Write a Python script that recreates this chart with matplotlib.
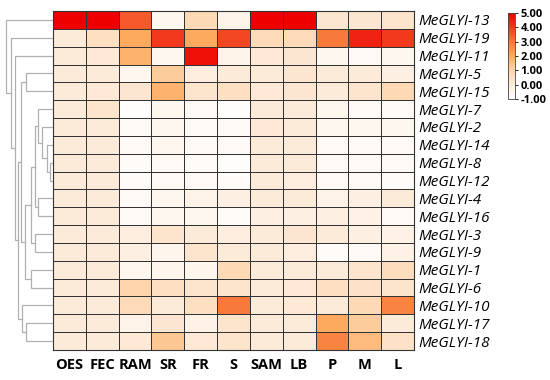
import matplotlib
matplotlib.use("Agg")
import matplotlib.pyplot as plt
import numpy as np
from matplotlib.colors import LinearSegmentedColormap

columns = ["OES", "FEC", "RAM", "SR", "FR", "S", "SAM", "LB", "P", "M", "L"]
genes = ["MeGLYI-13", "MeGLYI-19", "MeGLYI-11", "MeGLYI-5", "MeGLYI-15", "MeGLYI-7",
         "MeGLYI-2", "MeGLYI-14", "MeGLYI-8", "MeGLYI-12", "MeGLYI-4", "MeGLYI-16",
         "MeGLYI-3", "MeGLYI-9", "MeGLYI-1", "MeGLYI-6", "MeGLYI-10", "MeGLYI-17", "MeGLYI-18"]

values = [
    [5.0, 5.0, 3.5, -0.6, 0.8, -0.4, 5.0, 5.0, 0.2, 0.2, 0.3],
    [0.0, 0.5, 2.0, 4.0, 2.0, 3.8, 0.7, 0.7, 3.0, 4.4, 4.0],
    [0.0, 0.1, 1.8, -0.6, 4.7, -0.4, 0.1, 0.2, -0.6, -0.7, -0.6],
    [0.0, 0.0, -0.6, 1.2, -0.1, 0.0, 0.0, 0.2, 0.0, 0.0, -0.2],
    [0.0, 0.1, 0.2, 1.8, 0.3, 0.5, 0.1, 0.2, 0.0, 0.3, 0.8],
    [0.0, 0.3, -0.9, -0.6, -0.7, -0.9, 0.0, 0.0, -0.6, -0.7, -0.7],
    [0.0, 0.0, -0.7, -0.6, -0.7, -0.7, 0.1, 0.0, -0.6, -0.6, -0.6],
    [0.0, 0.0, -0.7, -0.6, -0.7, -0.7, 0.0, 0.0, -0.7, -0.7, -0.7],
    [0.0, 0.0, -0.8, -0.7, -0.8, -0.9, 0.0, 0.0, -0.7, -0.7, -0.7],
    [0.0, 0.0, -0.8, -0.7, -0.7, -0.8, 0.0, -0.1, -0.7, -0.7, -0.8],
    [0.0, 0.0, -0.7, -0.6, -0.4, -0.2, 0.0, 0.0, -0.4, -0.2, 0.0],
    [0.0, 0.0, -0.7, -0.6, -0.6, -0.8, -0.2, -0.2, -0.2, -0.3, -0.7],
    [0.0, 0.0, -0.1, 0.3, 0.0, -0.1, 0.0, 0.2, 0.0, -0.2, -0.3],
    [0.0, 0.0, -0.2, -0.5, 0.3, 0.0, 0.0, -0.1, -0.8, -0.7, -0.3],
    [0.0, 0.0, -0.6, -0.5, -0.5, 0.8, 0.0, 0.0, 0.0, 0.3, 0.6],
    [0.0, 0.0, 1.0, 0.5, 0.3, 0.3, 0.0, 0.1, 0.5, 0.4, 0.3],
    [0.0, 0.0, 0.7, 0.0, 0.5, 3.0, 0.0, 0.1, 0.0, 0.8, 2.8],
    [0.0, 0.0, -0.4, 0.2, -0.3, 0.3, 0.0, 0.0, 2.0, 1.2, 0.0],
    [0.0, 0.0, 0.1, 1.3, 0.1, 0.3, 0.0, 0.0, 2.8, 1.6, 0.4],
]

# dendrogram merges: (child_a, child_b, height); ints are leaf rows, "n<k>" are earlier merges
merges = [
    (8, 9, 3), (7, "n0", 6), (6, "n1", 11), (5, "n2", 15), (10, 11, 15),
    ("n3", "n4", 18), (12, 13, 18), ("n5", "n6", 22), (14, 15, 22), ("n7", "n8", 27),
    (3, 4, 26), ("n10", "n9", 31), (17, 18, 26), (16, "n12", 30), ("n11", "n13", 34),
    (2, "n14", 37), (1, "n15", 41), (0, "n16", 46),
]

cbar_ticks = [5, 4, 3, 2, 1, 0, -1]

cmap = LinearSegmentedColormap.from_list(
    "wor",
    [(0.0, "#ffffff"), (1 / 6, "#fdebda"), (2 / 6, "#fdd4ab"), (3 / 6, "#fdab5e"),
     (4 / 6, "#f87a3a"), (5 / 6, "#f23a1e"), (1.0, "#ee0000")])

W, H = 550, 380
fig = plt.figure(figsize=(5.5, 3.8), dpi=100)

hx0, hx1, hy0, hy1 = 53, 414, 11, 350
ax = fig.add_axes([hx0 / W, 1 - hy1 / H, (hx1 - hx0) / W, (hy1 - hy0) / H])
data = np.array(values)
nr, nc = data.shape
mesh = ax.pcolormesh(np.arange(nc + 1), np.arange(nr + 1), data, cmap=cmap, vmin=-1, vmax=5,
                     edgecolors="#333333", linewidth=0.55)
ax.set_xlim(0, nc)
ax.set_ylim(nr, 0)
ax.set_xticks(np.arange(nc) + 0.5)
ax.set_xticklabels(columns, fontsize=10.5, fontweight="bold", family="Open Sans")
ax.set_yticks(np.arange(nr) + 0.5)
ax.set_yticklabels(genes, fontsize=11, style="italic", family="Open Sans")
ax.yaxis.tick_right()
ax.tick_params(length=0, pad=3)
ax.tick_params(axis="x", pad=6)
for s in ax.spines.values():
    s.set_color("#333333")
    s.set_linewidth(0.8)

# dendrogram
dx0 = 5
dax = fig.add_axes([dx0 / W, 1 - hy1 / H, (hx0 - dx0) / W, (hy1 - hy0) / H])
pos = {}
def node_pos(c):
    if isinstance(c, int):
        return c + 0.5, 0.0
    return pos[c]
for k, (a, b, h) in enumerate(merges):
    ya, ha = node_pos(a)
    yb, hb = node_pos(b)
    dax.plot([ha, h, h, hb], [ya, ya, yb, yb], color="#b0b0b0", lw=0.9, solid_joinstyle="miter")
    pos["n%d" % k] = ((ya + yb) / 2, h)
dax.set_ylim(nr, 0)
dax.set_xlim(47, 0)
dax.axis("off")

# colorbar
cax = fig.add_axes([508 / W, 1 - 99 / H, 7 / W, 86 / H])
cb = fig.colorbar(mesh, cax=cax, ticks=cbar_ticks)
cb.ax.set_yticklabels(["%.2f" % t for t in cbar_ticks], fontsize=8, fontweight="bold",
                      family="Open Sans")
cb.ax.tick_params(length=2, width=0.6, pad=2)
cb.outline.set_linewidth(0.6)
cb.outline.set_edgecolor("#444444")

fig.savefig("out.png", dpi=100)
